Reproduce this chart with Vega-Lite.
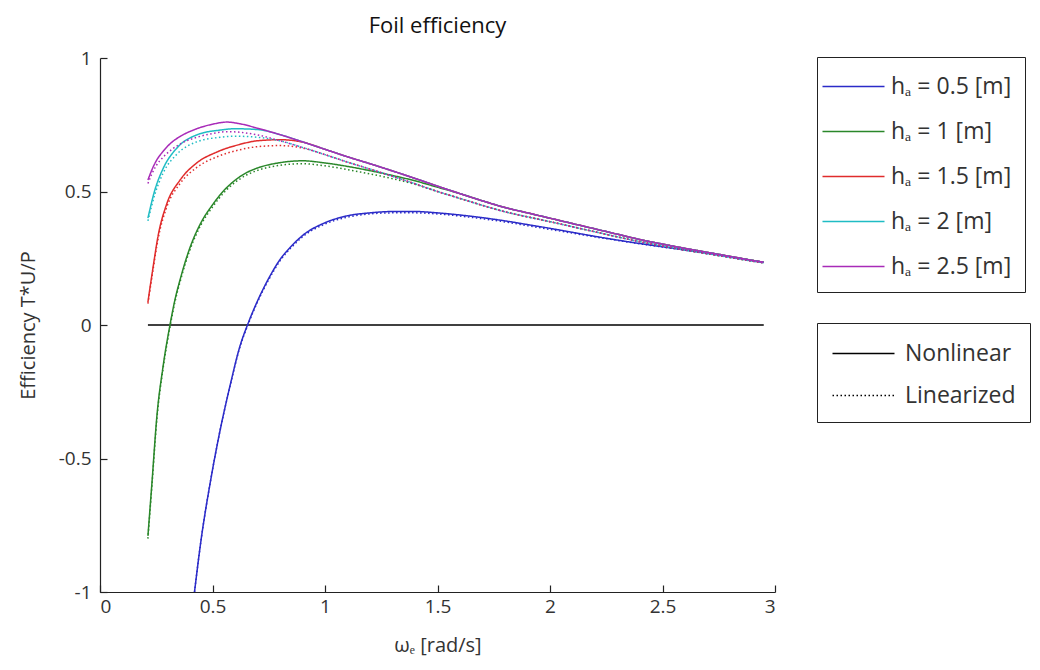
{
  "$schema": "https://vega.github.io/schema/vega-lite/v6.json",
  "autosize": "none",
  "width": 675,
  "height": 534,
  "padding": {"left": 100, "top": 58, "right": 265, "bottom": 78},
  "background": "white",
  "config": {
    "view": {"stroke": null},
    "font": "Open Sans",
    "axis": {
      "grid": false,
      "domainColor": "#222",
      "domainWidth": 1.2,
      "tickColor": "#222",
      "tickWidth": 1.2,
      "tickSize": -7,
      "labelFont": "Open Sans",
      "labelFontSize": 19,
      "labelColor": "#333",
      "labelExpr": "replace(datum.label, '−', '-')",
      "titleFont": "Open Sans",
      "titleFontSize": 20,
      "titleFontWeight": "normal",
      "titleColor": "#333"
    },
    "legend": {
      "strokeColor": "#222",
      "fillColor": "white",
      "labelFont": "Open Sans",
      "labelFontSize": 23,
      "labelColor": "#333",
      "symbolType": "M-2,0H2",
      "symbolSize": 961,
      "symbolStrokeWidth": 1.5
    }
  },
  "title": {
    "text": "Foil efficiency",
    "fontSize": 22,
    "fontWeight": "normal",
    "font": "Open Sans",
    "color": "#111",
    "anchor": "middle",
    "offset": 11
  },
  "layer": [
    {
      "data": {"values": [{"w": 0.213, "e": 0}, {"w": 2.95, "e": 0}]},
      "mark": {"type": "line", "color": "black", "strokeWidth": 1.5},
      "encoding": {
        "x": {"field": "w", "type": "quantitative"},
        "y": {"field": "e", "type": "quantitative"}
      }
    },
    {
      "data": {"values": [
        {"h":0.5,"m":"Linearized","w":0.42,"e":-1.0},{"h":0.5,"m":"Linearized","w":0.45,"e":-0.8},{"h":0.5,"m":"Linearized","w":0.49,"e":-0.59},{"h":0.5,"m":"Linearized","w":0.53,"e":-0.41},{"h":0.5,"m":"Linearized","w":0.58,"e":-0.222},{"h":0.5,"m":"Linearized","w":0.62,"e":-0.088},{"h":0.5,"m":"Linearized","w":0.66,"e":0.006},{"h":0.5,"m":"Linearized","w":0.7,"e":0.086},{"h":0.5,"m":"Linearized","w":0.75,"e":0.17},{"h":0.5,"m":"Linearized","w":0.8,"e":0.24},{"h":0.5,"m":"Linearized","w":0.85,"e":0.29},{"h":0.5,"m":"Linearized","w":0.9,"e":0.33},{"h":0.5,"m":"Linearized","w":1.0,"e":0.378},{"h":0.5,"m":"Linearized","w":1.1,"e":0.404},{"h":0.5,"m":"Linearized","w":1.2,"e":0.416},{"h":0.5,"m":"Linearized","w":1.3,"e":0.42},{"h":0.5,"m":"Linearized","w":1.4,"e":0.42},{"h":0.5,"m":"Linearized","w":1.5,"e":0.416},{"h":0.5,"m":"Linearized","w":1.6,"e":0.408},{"h":0.5,"m":"Linearized","w":1.7,"e":0.398},{"h":0.5,"m":"Linearized","w":1.8,"e":0.386},{"h":0.5,"m":"Linearized","w":1.9,"e":0.372},{"h":0.5,"m":"Linearized","w":2.0,"e":0.358},{"h":0.5,"m":"Linearized","w":2.1,"e":0.344},{"h":0.5,"m":"Linearized","w":2.2,"e":0.33},{"h":0.5,"m":"Linearized","w":2.3,"e":0.317},{"h":0.5,"m":"Linearized","w":2.4,"e":0.304},{"h":0.5,"m":"Linearized","w":2.5,"e":0.292},{"h":0.5,"m":"Linearized","w":2.6,"e":0.28},{"h":0.5,"m":"Linearized","w":2.7,"e":0.267},{"h":0.5,"m":"Linearized","w":2.8,"e":0.254},{"h":0.5,"m":"Linearized","w":2.9,"e":0.24},{"h":0.5,"m":"Linearized","w":2.95,"e":0.233},

        {"h":0.5,"m":"Nonlinear","w":0.42,"e":-1.0},{"h":0.5,"m":"Nonlinear","w":0.45,"e":-0.8},{"h":0.5,"m":"Nonlinear","w":0.49,"e":-0.59},{"h":0.5,"m":"Nonlinear","w":0.53,"e":-0.41},{"h":0.5,"m":"Nonlinear","w":0.58,"e":-0.22},{"h":0.5,"m":"Nonlinear","w":0.62,"e":-0.085},{"h":0.5,"m":"Nonlinear","w":0.66,"e":0.01},{"h":0.5,"m":"Nonlinear","w":0.7,"e":0.09},{"h":0.5,"m":"Nonlinear","w":0.75,"e":0.175},{"h":0.5,"m":"Nonlinear","w":0.8,"e":0.245},{"h":0.5,"m":"Nonlinear","w":0.85,"e":0.295},{"h":0.5,"m":"Nonlinear","w":0.9,"e":0.335},{"h":0.5,"m":"Nonlinear","w":1.0,"e":0.383},{"h":0.5,"m":"Nonlinear","w":1.1,"e":0.409},{"h":0.5,"m":"Nonlinear","w":1.2,"e":0.42},{"h":0.5,"m":"Nonlinear","w":1.3,"e":0.425},{"h":0.5,"m":"Nonlinear","w":1.4,"e":0.425},{"h":0.5,"m":"Nonlinear","w":1.5,"e":0.42},{"h":0.5,"m":"Nonlinear","w":1.6,"e":0.412},{"h":0.5,"m":"Nonlinear","w":1.7,"e":0.402},{"h":0.5,"m":"Nonlinear","w":1.8,"e":0.39},{"h":0.5,"m":"Nonlinear","w":1.9,"e":0.376},{"h":0.5,"m":"Nonlinear","w":2.0,"e":0.362},{"h":0.5,"m":"Nonlinear","w":2.1,"e":0.347},{"h":0.5,"m":"Nonlinear","w":2.2,"e":0.332},{"h":0.5,"m":"Nonlinear","w":2.3,"e":0.318},{"h":0.5,"m":"Nonlinear","w":2.4,"e":0.305},{"h":0.5,"m":"Nonlinear","w":2.5,"e":0.293},{"h":0.5,"m":"Nonlinear","w":2.6,"e":0.281},{"h":0.5,"m":"Nonlinear","w":2.7,"e":0.269},{"h":0.5,"m":"Nonlinear","w":2.8,"e":0.256},{"h":0.5,"m":"Nonlinear","w":2.9,"e":0.242},{"h":0.5,"m":"Nonlinear","w":2.95,"e":0.235},

        {"h":1,"m":"Linearized","w":0.213,"e":-0.8},{"h":1,"m":"Linearized","w":0.231,"e":-0.6},{"h":1,"m":"Linearized","w":0.253,"e":-0.35},{"h":1,"m":"Linearized","w":0.28,"e":-0.165},{"h":1,"m":"Linearized","w":0.311,"e":-0.008},{"h":1,"m":"Linearized","w":0.333,"e":0.086},{"h":1,"m":"Linearized","w":0.356,"e":0.162},{"h":1,"m":"Linearized","w":0.4,"e":0.282},{"h":1,"m":"Linearized","w":0.45,"e":0.377},{"h":1,"m":"Linearized","w":0.5,"e":0.442},{"h":1,"m":"Linearized","w":0.55,"e":0.495},{"h":1,"m":"Linearized","w":0.6,"e":0.534},{"h":1,"m":"Linearized","w":0.65,"e":0.561},{"h":1,"m":"Linearized","w":0.7,"e":0.579},{"h":1,"m":"Linearized","w":0.8,"e":0.598},{"h":1,"m":"Linearized","w":0.9,"e":0.604},{"h":1,"m":"Linearized","w":1.0,"e":0.596},{"h":1,"m":"Linearized","w":1.1,"e":0.582},{"h":1,"m":"Linearized","w":1.2,"e":0.566},{"h":1,"m":"Linearized","w":1.3,"e":0.548},{"h":1,"m":"Linearized","w":1.4,"e":0.527},{"h":1,"m":"Linearized","w":1.5,"e":0.5},{"h":1,"m":"Linearized","w":1.6,"e":0.474},{"h":1,"m":"Linearized","w":1.7,"e":0.448},{"h":1,"m":"Linearized","w":1.8,"e":0.424},{"h":1,"m":"Linearized","w":1.9,"e":0.405},{"h":1,"m":"Linearized","w":2.0,"e":0.387},{"h":1,"m":"Linearized","w":2.1,"e":0.368},{"h":1,"m":"Linearized","w":2.2,"e":0.349},{"h":1,"m":"Linearized","w":2.3,"e":0.33},{"h":1,"m":"Linearized","w":2.4,"e":0.312},{"h":1,"m":"Linearized","w":2.5,"e":0.296},{"h":1,"m":"Linearized","w":2.6,"e":0.281},{"h":1,"m":"Linearized","w":2.7,"e":0.267},{"h":1,"m":"Linearized","w":2.8,"e":0.253},{"h":1,"m":"Linearized","w":2.9,"e":0.239},{"h":1,"m":"Linearized","w":2.95,"e":0.233},

        {"h":1,"m":"Nonlinear","w":0.213,"e":-0.79},{"h":1,"m":"Nonlinear","w":0.231,"e":-0.59},{"h":1,"m":"Nonlinear","w":0.253,"e":-0.34},{"h":1,"m":"Nonlinear","w":0.28,"e":-0.157},{"h":1,"m":"Nonlinear","w":0.311,"e":0.0},{"h":1,"m":"Nonlinear","w":0.333,"e":0.094},{"h":1,"m":"Nonlinear","w":0.356,"e":0.17},{"h":1,"m":"Nonlinear","w":0.4,"e":0.29},{"h":1,"m":"Nonlinear","w":0.45,"e":0.385},{"h":1,"m":"Nonlinear","w":0.5,"e":0.45},{"h":1,"m":"Nonlinear","w":0.55,"e":0.503},{"h":1,"m":"Nonlinear","w":0.6,"e":0.542},{"h":1,"m":"Nonlinear","w":0.65,"e":0.57},{"h":1,"m":"Nonlinear","w":0.7,"e":0.588},{"h":1,"m":"Nonlinear","w":0.8,"e":0.608},{"h":1,"m":"Nonlinear","w":0.9,"e":0.615},{"h":1,"m":"Nonlinear","w":1.0,"e":0.607},{"h":1,"m":"Nonlinear","w":1.1,"e":0.594},{"h":1,"m":"Nonlinear","w":1.2,"e":0.578},{"h":1,"m":"Nonlinear","w":1.3,"e":0.56},{"h":1,"m":"Nonlinear","w":1.4,"e":0.54},{"h":1,"m":"Nonlinear","w":1.5,"e":0.516},{"h":1,"m":"Nonlinear","w":1.6,"e":0.492},{"h":1,"m":"Nonlinear","w":1.7,"e":0.465},{"h":1,"m":"Nonlinear","w":1.8,"e":0.44},{"h":1,"m":"Nonlinear","w":1.9,"e":0.42},{"h":1,"m":"Nonlinear","w":2.0,"e":0.4},{"h":1,"m":"Nonlinear","w":2.1,"e":0.38},{"h":1,"m":"Nonlinear","w":2.2,"e":0.36},{"h":1,"m":"Nonlinear","w":2.3,"e":0.34},{"h":1,"m":"Nonlinear","w":2.4,"e":0.32},{"h":1,"m":"Nonlinear","w":2.5,"e":0.303},{"h":1,"m":"Nonlinear","w":2.6,"e":0.287},{"h":1,"m":"Nonlinear","w":2.7,"e":0.272},{"h":1,"m":"Nonlinear","w":2.8,"e":0.257},{"h":1,"m":"Nonlinear","w":2.9,"e":0.242},{"h":1,"m":"Nonlinear","w":2.95,"e":0.235},

        {"h":1.5,"m":"Linearized","w":0.213,"e":0.08},{"h":1.5,"m":"Linearized","w":0.236,"e":0.208},{"h":1.5,"m":"Linearized","w":0.258,"e":0.322},{"h":1.5,"m":"Linearized","w":0.296,"e":0.44},{"h":1.5,"m":"Linearized","w":0.356,"e":0.53},{"h":1.5,"m":"Linearized","w":0.43,"e":0.59},{"h":1.5,"m":"Linearized","w":0.52,"e":0.63},{"h":1.5,"m":"Linearized","w":0.62,"e":0.656},{"h":1.5,"m":"Linearized","w":0.7,"e":0.668},{"h":1.5,"m":"Linearized","w":0.8,"e":0.672},{"h":1.5,"m":"Linearized","w":0.9,"e":0.663},{"h":1.5,"m":"Linearized","w":1.0,"e":0.638},{"h":1.5,"m":"Linearized","w":1.1,"e":0.61},{"h":1.5,"m":"Linearized","w":1.2,"e":0.584},{"h":1.5,"m":"Linearized","w":1.3,"e":0.557},{"h":1.5,"m":"Linearized","w":1.4,"e":0.529},{"h":1.5,"m":"Linearized","w":1.5,"e":0.5},{"h":1.5,"m":"Linearized","w":1.6,"e":0.474},{"h":1.5,"m":"Linearized","w":1.7,"e":0.448},{"h":1.5,"m":"Linearized","w":1.8,"e":0.424},{"h":1.5,"m":"Linearized","w":1.9,"e":0.405},{"h":1.5,"m":"Linearized","w":2.0,"e":0.387},{"h":1.5,"m":"Linearized","w":2.1,"e":0.368},{"h":1.5,"m":"Linearized","w":2.2,"e":0.349},{"h":1.5,"m":"Linearized","w":2.3,"e":0.33},{"h":1.5,"m":"Linearized","w":2.4,"e":0.312},{"h":1.5,"m":"Linearized","w":2.5,"e":0.296},{"h":1.5,"m":"Linearized","w":2.6,"e":0.281},{"h":1.5,"m":"Linearized","w":2.7,"e":0.267},{"h":1.5,"m":"Linearized","w":2.8,"e":0.253},{"h":1.5,"m":"Linearized","w":2.9,"e":0.239},{"h":1.5,"m":"Linearized","w":2.95,"e":0.233},

        {"h":1.5,"m":"Nonlinear","w":0.213,"e":0.086},{"h":1.5,"m":"Nonlinear","w":0.236,"e":0.217},{"h":1.5,"m":"Nonlinear","w":0.258,"e":0.333},{"h":1.5,"m":"Nonlinear","w":0.296,"e":0.452},{"h":1.5,"m":"Nonlinear","w":0.356,"e":0.543},{"h":1.5,"m":"Nonlinear","w":0.43,"e":0.607},{"h":1.5,"m":"Nonlinear","w":0.52,"e":0.648},{"h":1.5,"m":"Nonlinear","w":0.62,"e":0.676},{"h":1.5,"m":"Nonlinear","w":0.7,"e":0.69},{"h":1.5,"m":"Nonlinear","w":0.8,"e":0.694},{"h":1.5,"m":"Nonlinear","w":0.9,"e":0.685},{"h":1.5,"m":"Nonlinear","w":1.0,"e":0.658},{"h":1.5,"m":"Nonlinear","w":1.1,"e":0.63},{"h":1.5,"m":"Nonlinear","w":1.2,"e":0.604},{"h":1.5,"m":"Nonlinear","w":1.3,"e":0.577},{"h":1.5,"m":"Nonlinear","w":1.4,"e":0.549},{"h":1.5,"m":"Nonlinear","w":1.5,"e":0.52},{"h":1.5,"m":"Nonlinear","w":1.6,"e":0.492},{"h":1.5,"m":"Nonlinear","w":1.7,"e":0.465},{"h":1.5,"m":"Nonlinear","w":1.8,"e":0.44},{"h":1.5,"m":"Nonlinear","w":1.9,"e":0.42},{"h":1.5,"m":"Nonlinear","w":2.0,"e":0.4},{"h":1.5,"m":"Nonlinear","w":2.1,"e":0.38},{"h":1.5,"m":"Nonlinear","w":2.2,"e":0.36},{"h":1.5,"m":"Nonlinear","w":2.3,"e":0.34},{"h":1.5,"m":"Nonlinear","w":2.4,"e":0.32},{"h":1.5,"m":"Nonlinear","w":2.5,"e":0.303},{"h":1.5,"m":"Nonlinear","w":2.6,"e":0.287},{"h":1.5,"m":"Nonlinear","w":2.7,"e":0.272},{"h":1.5,"m":"Nonlinear","w":2.8,"e":0.257},{"h":1.5,"m":"Nonlinear","w":2.9,"e":0.242},{"h":1.5,"m":"Nonlinear","w":2.95,"e":0.235},

        {"h":2,"m":"Linearized","w":0.213,"e":0.39},{"h":2,"m":"Linearized","w":0.244,"e":0.49},{"h":2,"m":"Linearized","w":0.28,"e":0.568},{"h":2,"m":"Linearized","w":0.342,"e":0.64},{"h":2,"m":"Linearized","w":0.43,"e":0.686},{"h":2,"m":"Linearized","w":0.533,"e":0.703},{"h":2,"m":"Linearized","w":0.6,"e":0.707},{"h":2,"m":"Linearized","w":0.7,"e":0.703},{"h":2,"m":"Linearized","w":0.8,"e":0.69},{"h":2,"m":"Linearized","w":0.9,"e":0.665},{"h":2,"m":"Linearized","w":1.0,"e":0.638},{"h":2,"m":"Linearized","w":1.1,"e":0.61},{"h":2,"m":"Linearized","w":1.2,"e":0.584},{"h":2,"m":"Linearized","w":1.3,"e":0.557},{"h":2,"m":"Linearized","w":1.4,"e":0.529},{"h":2,"m":"Linearized","w":1.5,"e":0.5},{"h":2,"m":"Linearized","w":1.6,"e":0.474},{"h":2,"m":"Linearized","w":1.7,"e":0.448},{"h":2,"m":"Linearized","w":1.8,"e":0.424},{"h":2,"m":"Linearized","w":1.9,"e":0.405},{"h":2,"m":"Linearized","w":2.0,"e":0.387},{"h":2,"m":"Linearized","w":2.1,"e":0.368},{"h":2,"m":"Linearized","w":2.2,"e":0.349},{"h":2,"m":"Linearized","w":2.3,"e":0.33},{"h":2,"m":"Linearized","w":2.4,"e":0.312},{"h":2,"m":"Linearized","w":2.5,"e":0.296},{"h":2,"m":"Linearized","w":2.6,"e":0.281},{"h":2,"m":"Linearized","w":2.7,"e":0.267},{"h":2,"m":"Linearized","w":2.8,"e":0.253},{"h":2,"m":"Linearized","w":2.9,"e":0.239},{"h":2,"m":"Linearized","w":2.95,"e":0.233},

        {"h":2,"m":"Nonlinear","w":0.213,"e":0.4},{"h":2,"m":"Nonlinear","w":0.244,"e":0.506},{"h":2,"m":"Nonlinear","w":0.28,"e":0.585},{"h":2,"m":"Nonlinear","w":0.342,"e":0.663},{"h":2,"m":"Nonlinear","w":0.43,"e":0.712},{"h":2,"m":"Nonlinear","w":0.533,"e":0.73},{"h":2,"m":"Nonlinear","w":0.6,"e":0.735},{"h":2,"m":"Nonlinear","w":0.7,"e":0.732},{"h":2,"m":"Nonlinear","w":0.8,"e":0.713},{"h":2,"m":"Nonlinear","w":0.9,"e":0.686},{"h":2,"m":"Nonlinear","w":1.0,"e":0.658},{"h":2,"m":"Nonlinear","w":1.1,"e":0.63},{"h":2,"m":"Nonlinear","w":1.2,"e":0.604},{"h":2,"m":"Nonlinear","w":1.3,"e":0.577},{"h":2,"m":"Nonlinear","w":1.4,"e":0.549},{"h":2,"m":"Nonlinear","w":1.5,"e":0.52},{"h":2,"m":"Nonlinear","w":1.6,"e":0.492},{"h":2,"m":"Nonlinear","w":1.7,"e":0.465},{"h":2,"m":"Nonlinear","w":1.8,"e":0.44},{"h":2,"m":"Nonlinear","w":1.9,"e":0.42},{"h":2,"m":"Nonlinear","w":2.0,"e":0.4},{"h":2,"m":"Nonlinear","w":2.1,"e":0.38},{"h":2,"m":"Nonlinear","w":2.2,"e":0.36},{"h":2,"m":"Nonlinear","w":2.3,"e":0.34},{"h":2,"m":"Nonlinear","w":2.4,"e":0.32},{"h":2,"m":"Nonlinear","w":2.5,"e":0.303},{"h":2,"m":"Nonlinear","w":2.6,"e":0.287},{"h":2,"m":"Nonlinear","w":2.7,"e":0.272},{"h":2,"m":"Nonlinear","w":2.8,"e":0.257},{"h":2,"m":"Nonlinear","w":2.9,"e":0.242},{"h":2,"m":"Nonlinear","w":2.95,"e":0.235},

        {"h":2.5,"m":"Linearized","w":0.213,"e":0.53},{"h":2.5,"m":"Linearized","w":0.23,"e":0.565},{"h":2.5,"m":"Linearized","w":0.25,"e":0.597},{"h":2.5,"m":"Linearized","w":0.28,"e":0.628},{"h":2.5,"m":"Linearized","w":0.32,"e":0.658},{"h":2.5,"m":"Linearized","w":0.36,"e":0.68},{"h":2.5,"m":"Linearized","w":0.43,"e":0.703},{"h":2.5,"m":"Linearized","w":0.5,"e":0.717},{"h":2.5,"m":"Linearized","w":0.564,"e":0.724},{"h":2.5,"m":"Linearized","w":0.62,"e":0.722},{"h":2.5,"m":"Linearized","w":0.7,"e":0.712},{"h":2.5,"m":"Linearized","w":0.8,"e":0.69},{"h":2.5,"m":"Linearized","w":0.9,"e":0.665},{"h":2.5,"m":"Linearized","w":1.0,"e":0.638},{"h":2.5,"m":"Linearized","w":1.1,"e":0.61},{"h":2.5,"m":"Linearized","w":1.2,"e":0.584},{"h":2.5,"m":"Linearized","w":1.3,"e":0.557},{"h":2.5,"m":"Linearized","w":1.4,"e":0.529},{"h":2.5,"m":"Linearized","w":1.5,"e":0.5},{"h":2.5,"m":"Linearized","w":1.6,"e":0.474},{"h":2.5,"m":"Linearized","w":1.7,"e":0.448},{"h":2.5,"m":"Linearized","w":1.8,"e":0.424},{"h":2.5,"m":"Linearized","w":1.9,"e":0.405},{"h":2.5,"m":"Linearized","w":2.0,"e":0.387},{"h":2.5,"m":"Linearized","w":2.1,"e":0.368},{"h":2.5,"m":"Linearized","w":2.2,"e":0.349},{"h":2.5,"m":"Linearized","w":2.3,"e":0.33},{"h":2.5,"m":"Linearized","w":2.4,"e":0.312},{"h":2.5,"m":"Linearized","w":2.5,"e":0.296},{"h":2.5,"m":"Linearized","w":2.6,"e":0.281},{"h":2.5,"m":"Linearized","w":2.7,"e":0.267},{"h":2.5,"m":"Linearized","w":2.8,"e":0.253},{"h":2.5,"m":"Linearized","w":2.9,"e":0.239},{"h":2.5,"m":"Linearized","w":2.95,"e":0.233},

        {"h":2.5,"m":"Nonlinear","w":0.213,"e":0.543},{"h":2.5,"m":"Nonlinear","w":0.23,"e":0.58},{"h":2.5,"m":"Nonlinear","w":0.25,"e":0.615},{"h":2.5,"m":"Nonlinear","w":0.28,"e":0.65},{"h":2.5,"m":"Nonlinear","w":0.32,"e":0.685},{"h":2.5,"m":"Nonlinear","w":0.36,"e":0.708},{"h":2.5,"m":"Nonlinear","w":0.43,"e":0.735},{"h":2.5,"m":"Nonlinear","w":0.5,"e":0.752},{"h":2.5,"m":"Nonlinear","w":0.564,"e":0.76},{"h":2.5,"m":"Nonlinear","w":0.62,"e":0.754},{"h":2.5,"m":"Nonlinear","w":0.7,"e":0.737},{"h":2.5,"m":"Nonlinear","w":0.8,"e":0.713},{"h":2.5,"m":"Nonlinear","w":0.9,"e":0.686},{"h":2.5,"m":"Nonlinear","w":1.0,"e":0.658},{"h":2.5,"m":"Nonlinear","w":1.1,"e":0.63},{"h":2.5,"m":"Nonlinear","w":1.2,"e":0.604},{"h":2.5,"m":"Nonlinear","w":1.3,"e":0.577},{"h":2.5,"m":"Nonlinear","w":1.4,"e":0.549},{"h":2.5,"m":"Nonlinear","w":1.5,"e":0.52},{"h":2.5,"m":"Nonlinear","w":1.6,"e":0.492},{"h":2.5,"m":"Nonlinear","w":1.7,"e":0.465},{"h":2.5,"m":"Nonlinear","w":1.8,"e":0.44},{"h":2.5,"m":"Nonlinear","w":1.9,"e":0.42},{"h":2.5,"m":"Nonlinear","w":2.0,"e":0.4},{"h":2.5,"m":"Nonlinear","w":2.1,"e":0.38},{"h":2.5,"m":"Nonlinear","w":2.2,"e":0.36},{"h":2.5,"m":"Nonlinear","w":2.3,"e":0.34},{"h":2.5,"m":"Nonlinear","w":2.4,"e":0.32},{"h":2.5,"m":"Nonlinear","w":2.5,"e":0.303},{"h":2.5,"m":"Nonlinear","w":2.6,"e":0.287},{"h":2.5,"m":"Nonlinear","w":2.7,"e":0.272},{"h":2.5,"m":"Nonlinear","w":2.8,"e":0.257},{"h":2.5,"m":"Nonlinear","w":2.9,"e":0.242},{"h":2.5,"m":"Nonlinear","w":2.95,"e":0.235}
      ]},
      "mark": {"type": "line", "strokeWidth": 1.5, "clip": true, "interpolate": "monotone"},
      "encoding": {
        "x": {
          "field": "w",
          "type": "quantitative",
          "scale": {"domain": [0, 3], "nice": false, "zero": false},
          "axis": {
            "title": "ωₑ [rad/s]",
            "values": [0, 0.5, 1, 1.5, 2, 2.5, 3],
            "format": "~g",
            "labelPadding": 12,
            "titlePadding": 19
          }
        },
        "y": {
          "field": "e",
          "type": "quantitative",
          "scale": {"domain": [-1, 1], "nice": false, "zero": false},
          "axis": {
            "title": "Efficiency T*U/P",
            "values": [-1, -0.5, 0, 0.5, 1],
            "format": "~g",
            "labelPadding": 16,
            "titlePadding": 20
          }
        },
        "color": {
          "field": "h",
          "type": "nominal",
          "scale": {
            "domain": [0.5, 1, 1.5, 2, 2.5],
            "range": ["#2b2bc8", "#2a872a", "#e02c2c", "#1fbcc4", "#a82bb8"]
          },
          "legend": {
            "title": null,
            "orient": "none",
            "legendX": 717,
            "legendY": -1,
            "padding": 13,
            "rowPadding": 16,
            "symbolOffset": 7,
            "labelOffset": 21,
            "labelExpr": "'hₐ = ' + datum.label + ' [m]'"
          }
        },
        "strokeDash": {
          "field": "m",
          "type": "nominal",
          "scale": {"domain": ["Nonlinear", "Linearized"], "range": [[1, 0], [1.5, 2.5]]},
          "legend": {
            "title": null,
            "orient": "none",
            "legendX": 717,
            "legendY": 265,
            "padding": 14,
            "rowPadding": 13,
            "symbolOffset": 16,
            "labelOffset": 25,
            "symbolStrokeColor": "black"
          }
        }
      }
    }
  ]
}
